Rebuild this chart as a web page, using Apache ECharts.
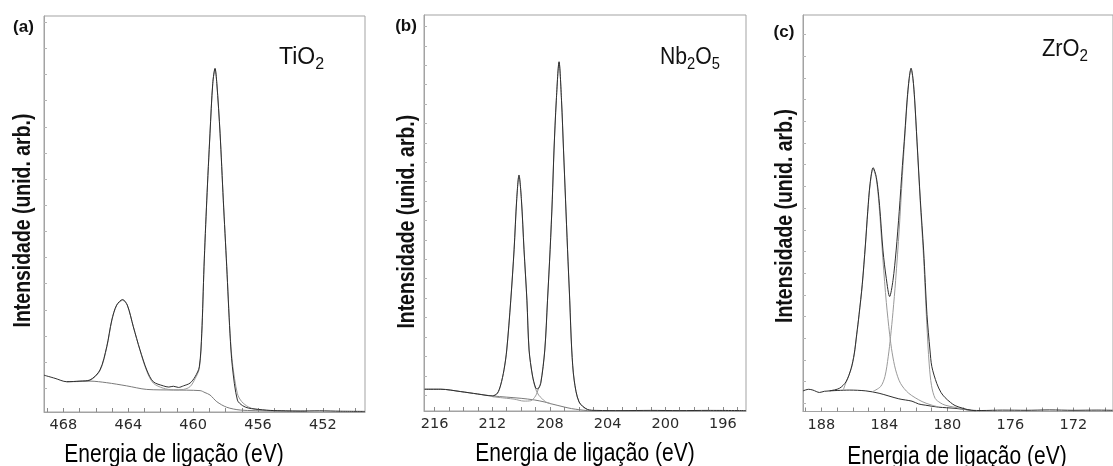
<!DOCTYPE html>
<html>
<head>
<meta charset="utf-8">
<script src="https://cdn.jsdelivr.net/npm/echarts@6/dist/echarts.min.js"></script>
<style>
  html, body { margin: 0; padding: 0; background: #fff; }
  #chart { width: 1113px; height: 466px; }
</style>
</head>
<body>
<div id="chart"></div>
<script>
// ---- Ti 2p region (TiO2): [binding energy eV, intensity a.u.] ----
const tiData = [
  [469.2, 9.3], [468.52, 8.5], [467.8, 7.65], [466.98, 7.8], [466.36, 8.1], [465.75, 10.6],
  [465.33, 16.5], [465.02, 23.2], [464.72, 27.0], [464.35, 28.4], [464.06, 27.0], [463.69, 21.5],
  [463.28, 15.7], [462.86, 10.6], [462.46, 7.65], [461.84, 6.6], [461.5, 6.3], [461.22, 6.5],
  [460.9, 6.2], [460.6, 6.6], [460.19, 7.3], [459.88, 8.9], [459.62, 11.4], [459.47, 19.9],
  [459.33, 36.7], [459.16, 53.5], [458.96, 70.4], [458.79, 83.0], [458.65, 86.8], [458.54, 83.0],
  [458.34, 70.4], [458.14, 53.5], [457.93, 36.7], [457.73, 19.9], [457.58, 11.4], [457.27, 3.0],
  [456.95, 1.6], [456.6, 1.0], [456.18, 0.75], [455.25, 0.4], [454.3, 0.3], [453.4, 0.25],
  [452.2, 0.3], [450.9, 0.2], [449.4, 0.15]
];
const tiFit = [
  [467.8, 7.65], [466.98, 7.7], [466.36, 8.0], [465.75, 10.4], [465.33, 16.3], [465.02, 23.0],
  [464.72, 26.9], [464.35, 28.2], [464.06, 26.9], [463.69, 21.6], [463.28, 15.6], [462.86, 10.3],
  [462.46, 7.3], [461.84, 6.0], [461.22, 5.6], [460.6, 5.7], [460.19, 6.4], [459.88, 8.4],
  [459.62, 11.0], [459.47, 19.5], [459.33, 36.5], [459.16, 53.5], [458.96, 70.4], [458.79, 83.0],
  [458.65, 86.6], [458.54, 83.0], [458.34, 70.4], [458.14, 53.5], [457.93, 37.0], [457.73, 20.5],
  [457.58, 12.5], [457.27, 4.6], [457.0, 2.6], [456.6, 1.3], [456.18, 0.7], [455.25, 0.35], [454.3, 0.25]
];
const tiBackground = [
  [467.8, 7.65], [466.36, 7.8], [465.33, 7.4], [464.1, 6.6], [462.86, 5.7], [461.22, 5.55],
  [459.57, 5.4], [459.27, 4.9], [458.96, 4.3], [458.54, 2.6], [457.93, 1.2], [457.1, 0.5],
  [455.25, 0.25], [453.0, 0.15]
];

// ---- Nb 3d region (Nb2O5) ----
const nbData = [
  [216.7, 5.5], [215.58, 5.5], [214.19, 4.9], [213.03, 4.3], [211.99, 3.8], [211.65, 4.5],
  [211.42, 6.6], [211.19, 10.4], [211.0, 15.4], [210.72, 28.0], [210.49, 40.7], [210.31, 53.3],
  [210.15, 59.6], [209.98, 53.3], [209.8, 40.7], [209.6, 28.0], [209.45, 15.4], [209.22, 9.1],
  [208.99, 5.8], [208.85, 5.6], [208.64, 7.0], [208.36, 15.4], [208.17, 28.0], [207.99, 40.7],
  [207.84, 53.3], [207.72, 65.9], [207.56, 78.5], [207.37, 88.2], [207.2, 78.5], [207.06, 65.9],
  [206.92, 53.3], [206.78, 40.7], [206.63, 28.0], [206.49, 15.4], [206.32, 7.8], [205.98, 2.3],
  [205.4, 0.4], [204.8, 0.15], [203.0, 0.1], [201.0, 0.15], [199.0, 0.1], [197.0, 0.15], [194.4, 0.1]
];
const nbDoublet52 = [
  [211.99, 3.8], [211.65, 4.4], [211.42, 6.5], [211.19, 10.3], [211.0, 15.3], [210.72, 28.0],
  [210.49, 40.7], [210.31, 53.3], [210.15, 59.4], [209.98, 53.3], [209.8, 40.7], [209.6, 28.0],
  [209.45, 15.4], [209.22, 8.9], [208.99, 5.5], [208.78, 4.0], [208.57, 3.2], [208.3, 2.3], [207.9, 1.8]
];
const nbDoublet32 = [
  [211.99, 3.6], [211.0, 3.2], [210.49, 3.0], [209.8, 2.5], [209.33, 2.6], [209.0, 3.8],
  [208.78, 5.8], [208.64, 7.2], [208.36, 15.4], [208.17, 28.0], [207.99, 40.7], [207.84, 53.3],
  [207.72, 65.9], [207.56, 78.5], [207.37, 88.0], [207.2, 78.5], [207.06, 65.9], [206.92, 53.3],
  [206.78, 40.7], [206.63, 28.0], [206.49, 15.4], [206.32, 7.6], [205.98, 2.2], [205.4, 0.35], [204.8, 0.1]
];
const nbBackground = [
  [216.7, 5.5], [215.58, 5.5], [214.19, 4.9], [213.03, 4.3], [211.99, 3.8], [211.0, 3.5],
  [210.0, 3.2], [209.1, 2.8], [208.4, 2.3], [207.9, 1.8], [207.0, 1.0], [206.5, 0.6],
  [206.0, 0.35], [205.4, 0.1], [204.5, 0.05]
];

// ---- Zr 3d region (ZrO2) ----
const zrData = [
  [189.16, 5.2], [188.8, 5.6], [188.53, 5.4], [188.11, 4.8], [187.8, 5.1], [187.48, 5.2],
  [186.85, 5.85], [186.43, 7.5], [186.11, 10.8], [185.91, 14.5], [185.75, 19.5], [185.6, 24.5],
  [185.4, 32.0], [185.2, 42.0], [185.05, 50.5], [184.9, 57.5], [184.71, 61.5], [184.5, 59.0],
  [184.3, 52.0], [184.08, 40.5], [183.87, 33.5], [183.66, 29.0], [183.45, 33.0], [183.25, 40.5],
  [183.05, 50.5], [182.85, 62.0], [182.7, 70.0], [182.55, 78.6], [182.42, 84.0], [182.3, 86.6],
  [182.18, 84.0], [182.07, 78.6], [181.92, 68.0], [181.71, 53.3], [181.5, 40.5], [181.29, 24.5],
  [181.1, 15.5], [180.98, 11.3], [180.67, 7.1], [180.4, 4.8], [180.14, 3.5], [179.8, 2.3],
  [179.51, 1.5], [179.0, 0.8], [178.46, 0.3], [177.8, 0.25], [176.5, 0.35], [175.0, 0.3],
  [173.5, 0.4], [172.0, 0.3], [170.5, 0.35], [169.5, 0.3]
];
const zrDoublet32 = [
  [186.6, 5.5], [186.43, 7.3], [186.11, 10.6], [185.91, 14.3], [185.75, 19.3], [185.6, 24.3],
  [185.4, 31.8], [185.2, 41.8], [185.05, 50.3], [184.9, 57.3], [184.71, 61.2], [184.5, 58.5],
  [184.3, 50.5], [184.08, 38.0], [183.87, 27.5], [183.66, 19.5], [183.5, 14.8], [183.28, 10.5],
  [182.97, 7.1], [182.45, 4.6], [181.6, 2.5], [180.98, 1.6], [180.56, 1.15]
];
const zrDoublet52 = [
  [184.75, 5.0], [184.23, 6.3], [183.96, 8.8], [183.75, 13.8], [183.6, 18.9], [183.45, 25.0],
  [183.28, 33.0], [183.05, 46.0], [182.85, 59.5], [182.7, 69.0], [182.55, 78.0], [182.42, 83.8],
  [182.3, 86.4], [182.18, 83.8], [182.07, 78.4], [181.92, 67.8], [181.71, 52.5], [181.5, 38.5],
  [181.3, 22.0], [181.15, 12.0], [181.0, 6.5], [180.77, 3.3], [180.45, 2.2], [180.14, 1.6],
  [179.51, 1.05], [179.0, 0.6], [178.5, 0.25]
];
const zrBackground = [
  [187.48, 5.2], [186.22, 5.4], [185.17, 5.2], [184.33, 4.6], [183.08, 3.2], [182.24, 2.6],
  [181.82, 1.9], [181.4, 1.6], [180.56, 1.1], [179.51, 0.8], [178.67, 0.4], [178.2, 0.2]
];

// ---- axis tick labels (eV) ----
const tiTickLabels = [468, 464, 460, 456, 452];
const nbTickLabels = [216, 212, 208, 204, 200, 196];
const zrTickLabels = [188, 184, 180, 176, 172];

const panelTags = ['(a)', '(b)', '(c)'];
const xTitle = 'Energia de ligação (eV)';
const yTitle = 'Intensidade (unid. arb.)';

const DARK = '#2e2e2e';
const GREY = '#9a9a9a';
const BG_GREY = '#7a7a7a';
const AXIS_GREY = '#a3a3a3';

// one tick per whole eV inside the axis span
function wholeEv(lo, hi) {
  const out = [];
  for (let v = Math.ceil(lo); v <= Math.floor(hi); v++) out.push(v);
  return out;
}
// evenly spaced unlabelled intensity ticks
function intensityTicks(start, step) {
  const out = [];
  for (let v = start; v < 100; v += step) out.push(+v.toFixed(3));
  return out;
}

const panels = [
  { grid: { left: 44, top: 16, width: 321, height: 396 }, min: 449.4, max: 469.2,
    labels: tiTickLabels, yTicks: intensityTicks(6.0, 6.6),
    curves: [[tiBackground, BG_GREY], [tiFit, GREY], [tiData, DARK]] },
  { grid: { left: 424, top: 15, width: 322, height: 396 }, min: 194.4, max: 216.74,
    labels: nbTickLabels, yTicks: intensityTicks(4.0, 4.9),
    curves: [[nbBackground, BG_GREY], [nbDoublet52, GREY], [nbDoublet32, GREY], [nbData, DARK]] },
  { grid: { left: 803, top: 15, width: 313, height: 396.5 }, min: 169.48, max: 189.16,
    labels: zrTickLabels, yTicks: intensityTicks(2.07, 5.47),
    curves: [[zrBackground, DARK], [zrDoublet32, GREY], [zrDoublet52, GREY], [zrData, DARK]] }
];

const grid = [], xAxis = [], yAxis = [], series = [];
panels.forEach((p, i) => {
  grid.push(Object.assign({ show: true, borderColor: AXIS_GREY, borderWidth: 1, containLabel: false }, p.grid));
  xAxis.push({
    type: 'value', gridIndex: i, inverse: true, min: p.min, max: p.max,
    axisLine: { show: true, lineStyle: { color: AXIS_GREY, width: 1 } },
    axisTick: { show: true, inside: true, length: 4, customValues: wholeEv(p.min, p.max),
                lineStyle: { color: '#8a8a8a' } },
    axisLabel: { customValues: p.labels, margin: 6, color: '#2a2a2a',
                 fontFamily: 'DejaVu Sans', fontSize: 14.5 },
    splitLine: { show: false }
  });
  yAxis.push({
    type: 'value', gridIndex: i, min: 0, max: 100,
    axisLine: { show: true, lineStyle: { color: AXIS_GREY, width: 1 } },
    axisTick: { show: true, inside: true, length: 3, customValues: p.yTicks,
                lineStyle: { color: '#b5b5b5' } },
    axisLabel: { show: false },
    splitLine: { show: false }
  });
  p.curves.forEach(([pts, color]) => {
    series.push({
      type: 'line', xAxisIndex: i, yAxisIndex: i, data: pts,
      symbol: 'none', smooth: 0.3, clip: true,
      lineStyle: { color: color, width: 1 }
    });
  });
});

const sub = { m: { fontFamily: 'Liberation Sans', fontSize: 23, lineHeight: 24, verticalAlign: 'top', fill: '#111' },
              s: { fontFamily: 'Liberation Sans', fontSize: 16, lineHeight: 16, verticalAlign: 'top',
                   padding: [11, 0, 0, 0], fill: '#111' } };
function formula(x, y, text, sx) {
  return { type: 'text', x: x, y: y, scaleX: sx, silent: true,
           style: { text: text, rich: sub, fill: '#111' } };
}
function tag(x, y, text) {
  return { type: 'text', x: x, y: y, silent: true,
           style: { text: text, fill: '#111', font: 'bold 17px "Liberation Sans"',
                    align: 'center', verticalAlign: 'middle' } };
}
// axis titles use a condensed face: Liberation Sans squeezed along the text direction
function xName(x, y) {
  return { type: 'text', x: x, y: y, scaleX: 0.84, silent: true,
           style: { text: xTitle, fill: '#000', font: '25px "Liberation Sans"',
                    align: 'center', verticalAlign: 'middle' } };
}
function yName(x, y) {
  return { type: 'text', x: x, y: y, rotation: Math.PI / 2, scaleX: 0.81, silent: true,
           style: { text: yTitle, fill: '#111', font: 'bold 24px "Liberation Sans"',
                    align: 'center', verticalAlign: 'middle' } };
}

const graphic = [
  tag(23.5, 27.5, panelTags[0]), tag(406, 26.5, panelTags[1]), tag(784, 32, panelTags[2]),
  formula(279, 46, '{m|TiO}{s|2}', 1.0),
  formula(660, 46, '{m|Nb}{s|2}{m|O}{s|5}', 0.92),
  formula(1042, 38, '{m|ZrO}{s|2}', 0.95),
  xName(174, 455.5), xName(585, 454), xName(957, 457),
  yName(23.8, 220.5), yName(407.5, 221.7), yName(785.8, 216)
];

const chart = echarts.init(document.getElementById('chart'), null, { renderer: 'canvas' });
chart.setOption({
  animation: false,
  backgroundColor: '#ffffff',
  grid: grid, xAxis: xAxis, yAxis: yAxis, series: series, graphic: graphic
});
</script>
</body>
</html>
